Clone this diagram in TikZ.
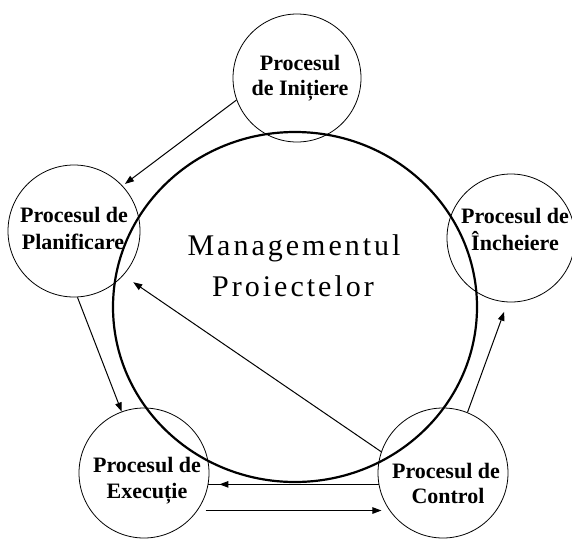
\documentclass[tikz,border=0pt]{standalone}
\usepackage{fontspec}
\setmainfont{Liberation Serif}
\newfontfamily\bigserif[LetterSpace=10]{Liberation Serif}
\usetikzlibrary{shapes.geometric,arrows.meta}
\begin{document}
\begin{tikzpicture}[x=1pt,y=-1pt,
  proc/.style={circle,draw,line width=0.8pt,inner sep=0pt},
  lbl/.style={anchor=base,inner sep=0pt,font=\bfseries\fontsize{22}{26}\selectfont},
  title/.style={anchor=base,inner sep=0pt,font=\bigserif\fontsize{30}{40}\selectfont},
  thin/.style={line width=1pt},
  arr/.style={line width=1pt,-{Triangle[length=9pt,width=6.5pt]}},
]
\useasboundingbox (0,0) rectangle (572,541);
% process circles
\node[proc,minimum size=128pt] (ini) at (297,78) {};
\node[proc,minimum size=132pt] (pla) at (74,231) {};
\node[proc,minimum size=128pt] (inc) at (511,238) {};
\node[proc,minimum size=130pt] (exe) at (144,473) {};
\node[proc,minimum size=130pt] (ctl) at (443,473) {};
% big circle
\node[ellipse,draw,line width=2.2pt,inner sep=0pt,minimum width=364pt,minimum height=350pt] (big) at (295,307) {};
% texts
\node[title] (t1) at (294,255) {Managementul};
\node[title] (t2) at (293,296) {Proiectelor};
\node[lbl] (iniA) at (300,70) {Procesul};
\node[lbl] (iniB) at (300,95) {de Inițiere};
\node[lbl] (plaA) at (74,222) {Procesul de};
\node[lbl] (plaB) at (73,249) {Planificare};
\node[lbl] (incA) at (515,223) {Procesul de};
\node[lbl] (incB) at (515,250) {Încheiere};
\node[lbl] (exeA) at (147,472) {Procesul de};
\node[lbl] (exeB) at (147,498) {Execuție};
\node[lbl] (ctlA) at (446,478) {Procesul de};
\node[lbl] (ctlB) at (448,503) {Control};
% connectors
\draw[arr,shorten >=3pt] (ini.200) -- (pla.43);
\draw[arr] (pla.273) -- (exe.110);
\draw[arr,shorten >=12pt] (ctl.161) -- (pla.318);
\draw[thin] (ctl.190) -- (exe.350);
\draw[arr,shorten >=11pt] (ctl.190) -- (exe.350);
\draw[arr,shorten <=8pt,shorten >=8pt] (exe.325) -- (ctl.215);
\draw[arr,shorten >=10pt] (ctl.68) -- (inc.267);
\end{tikzpicture}
\end{document}
